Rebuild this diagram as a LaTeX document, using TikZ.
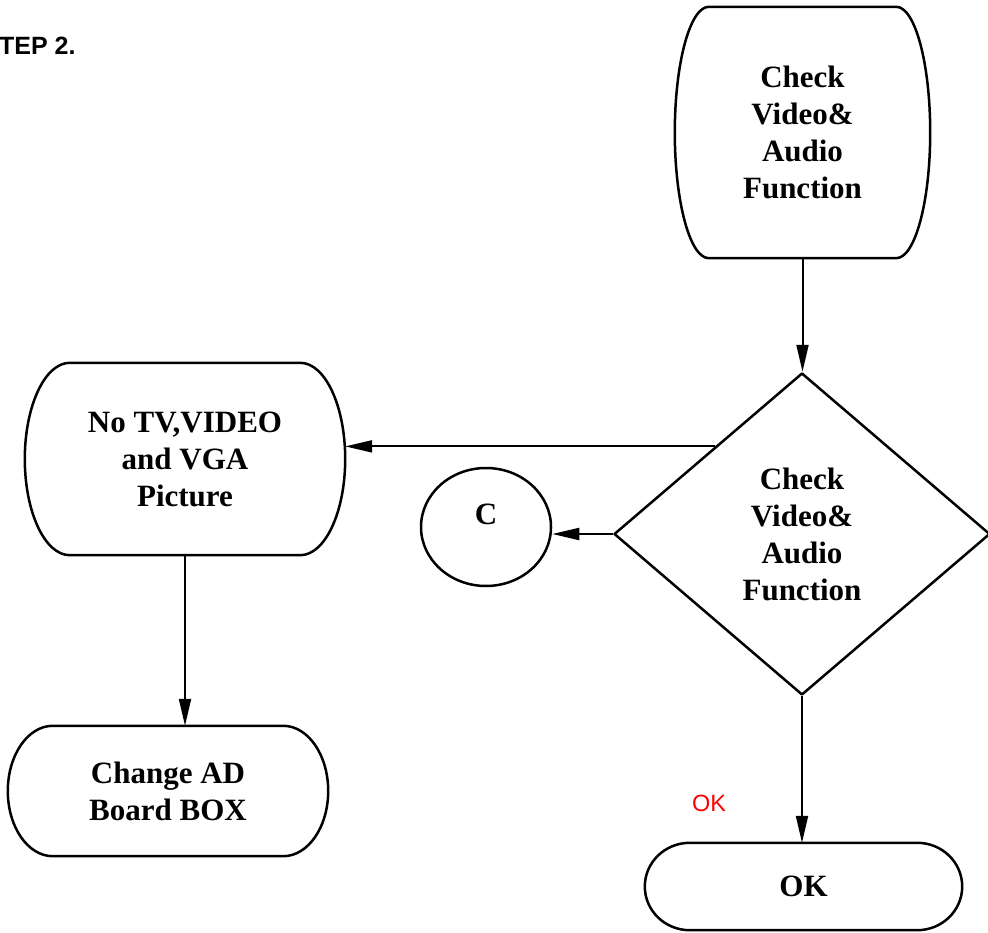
\documentclass[tikz,border=0pt]{standalone}
\usepackage{fontspec}
\setmainfont{Liberation Serif}
\newfontfamily\labelsans{Liberation Sans}
\usetikzlibrary{shapes.geometric,arrows.meta,calc}
\tikzset{
  boxfont/.style={font=\fontsize{31}{37}\selectfont\bfseries},
  boxtext/.style={rectangle, draw=none, inner sep=0pt, align=center, boxfont},
  outline/.style={line width=2.5pt, line join=round},
  conn/.style={line width=2pt, -{Triangle[length=27pt,width=12pt]}},
}
\newcommand\termoutline[2]{%
  \draw[outline] let \p1=(#1.north), \p2=(#1.south), \n1={(\y1-\y2)/2} in
    ([xshift=#2]#1.north west) -- ([xshift=-#2]#1.north east)
    arc[start angle=90, end angle=-90, x radius=#2, y radius=\n1]
    -- ([xshift=#2]#1.south west)
    arc[start angle=270, end angle=90, x radius=#2, y radius=\n1] -- cycle;}
\begin{document}
\begin{tikzpicture}[x=1pt,y=-1pt]
\useasboundingbox (0,0) rectangle (988,933);
% title
\node[anchor=base west, inner sep=0pt, font=\labelsans\bfseries\fontsize{25}{27}\selectfont] (title) at (-1,55) {TEP 2.};
% boxes
\node[boxtext, minimum width=255pt, minimum height=251pt] (tb) at (802.5,132.5) {Check\\Video\&\\Audio\\Function};
\termoutline{tb}{34pt}
\node[boxtext, minimum width=320pt, minimum height=192pt] (nb) at (185,459) {No TV,VIDEO\\and VGA\\Picture};
\termoutline{nb}{45pt}
\node[boxtext, minimum width=320pt, minimum height=130pt] (cb) at (168,791) {Change AD\\Board BOX};
\termoutline{cb}{45pt}
\node[boxtext, minimum width=317pt, minimum height=87pt] (ok) at (803.5,886.5) {OK};
\termoutline{ok}{45pt}
% decision
\node[diamond, draw, outline, inner sep=0pt, minimum width=376pt, minimum height=322pt,
      align=center, boxfont] (d) at (802,534) {Check\\Video\&\\Audio\\Function};
% connector
\node[ellipse, draw, outline, minimum width=130pt, minimum height=118pt, inner sep=0pt,
      label={[boxtext, yshift=13pt]center:C}] (c) at (486,527) {};
% red label
\node[font=\labelsans\fontsize{23.5}{25}\selectfont, text=red, inner sep=0pt] (oklbl) at (709,803.5) {OK};
% connectors
\coordinate (dnw) at ($(d.north)!0.46!(d.west)$);
\draw[conn] (tb.south) -- (tb.south |- d.north);
\draw[conn] (dnw) -- (dnw -| nb.east);
\draw[conn] (d.west) -- (d.west -| c.east);
\draw[conn] (nb.south) -- (nb.south |- cb.north);
\draw[conn] (d.south) -- (d.south |- ok.north);
\end{tikzpicture}
\end{document}
